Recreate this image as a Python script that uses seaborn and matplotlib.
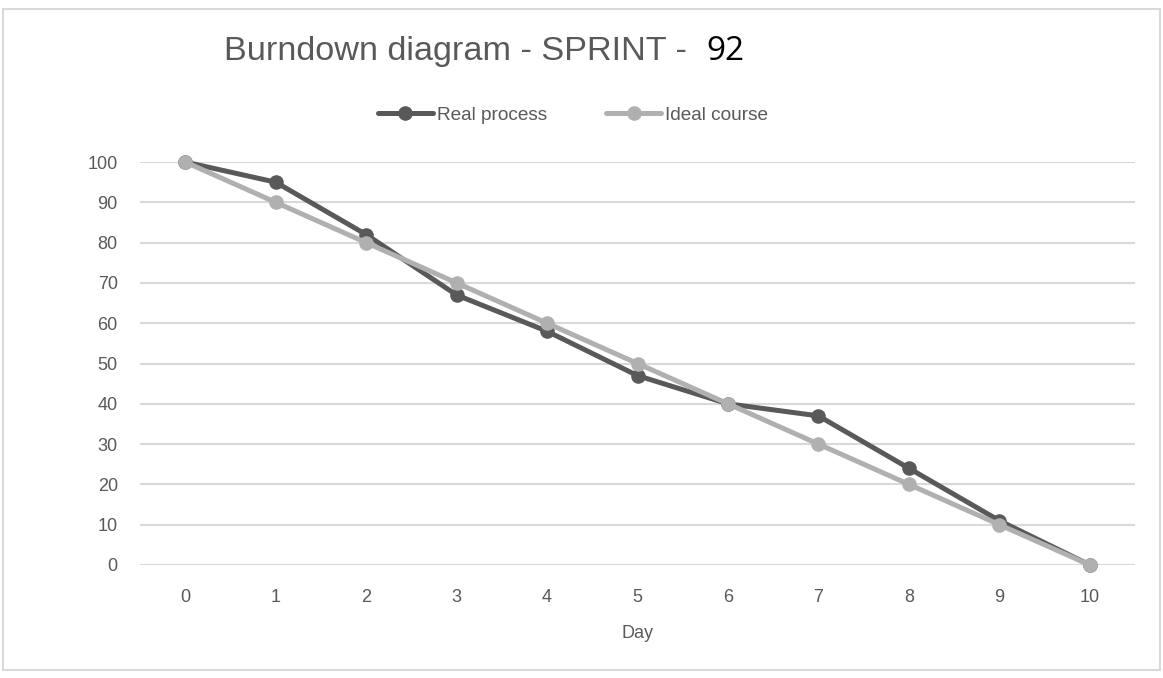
import pandas as pd
import seaborn as sns
import matplotlib.pyplot as plt
from matplotlib.patches import Rectangle

# Burndown data
days = [0, 1, 2, 3, 4, 5, 6, 7, 8, 9, 10]
real_process = [100, 95, 82, 67, 58, 47, 40, 37, 24, 11, 0]
ideal_course = [100, 90, 80, 70, 60, 50, 40, 30, 20, 10, 0]
series_names = ["Real process", "Ideal course"]
series_colors = ["#595959", "#b0b0b0"]
y_ticks = [0, 10, 20, 30, 40, 50, 60, 70, 80, 90, 100]

df = pd.concat([
    pd.DataFrame({"Day": days, "value": real_process, "series": series_names[0]}),
    pd.DataFrame({"Day": days, "value": ideal_course, "series": series_names[1]}),
])

sns.set_theme(style="white")
plt.rcParams['font.family'] = ['Liberation Sans', 'DejaVu Sans']

fig = plt.figure(figsize=(11.63, 6.78), dpi=100)
ax = fig.add_axes([0.1204, 0.1667, 0.8556, 0.5943])

# light frame around the whole picture
fig.patches.append(Rectangle((0.003, 0.012), 0.994, 0.975, transform=fig.transFigure,
                             fill=False, edgecolor="#d9d9d9", linewidth=1.5))

sns.lineplot(data=df, x="Day", y="value", hue="series", hue_order=series_names,
             palette=series_colors, marker="o", markersize=10.5, markeredgewidth=0,
             linewidth=3.6, ax=ax)

# ideal course sits on top of the real process line, markers not clipped at 0
for line, z in zip(ax.lines, [3, 4]):
    line.set_zorder(z)
    line.set_clip_on(False)

ax.set_xlim(-0.5, 10.5)
ax.set_ylim(0, 100)
ax.set_xticks(days)
ax.set_yticks(y_ticks)
ax.tick_params(axis="both", length=0, labelsize=13, labelcolor="#595959")
ax.tick_params(axis="x", pad=17)
ax.tick_params(axis="y", pad=16)
ax.grid(axis="y", color="#d9d9d9", linewidth=1.5)
ax.set_axisbelow(True)
for s in ax.spines.values():
    s.set_visible(False)
ax.set_ylabel("")
ax.set_xlabel("Day", fontsize=13, color="#595959", labelpad=14)

leg = ax.legend(loc="center", bbox_to_anchor=(0.435, 1.117), ncol=2, frameon=False,
                fontsize=13.7, handlelength=2.9, columnspacing=3.1, handletextpad=0.2)
for t in leg.get_texts():
    t.set_color("#595959")

fig.text(0.193, 0.924, "Burndown diagram - SPRINT - ", fontsize=24.7, color="#595959",
         ha="left", va="center")
fig.text(0.607, 0.924, "92", fontsize=24, color="black", ha="left", va="center",
         family=["Open Sans", "DejaVu Sans"])

fig.savefig("out.png", dpi=100)
